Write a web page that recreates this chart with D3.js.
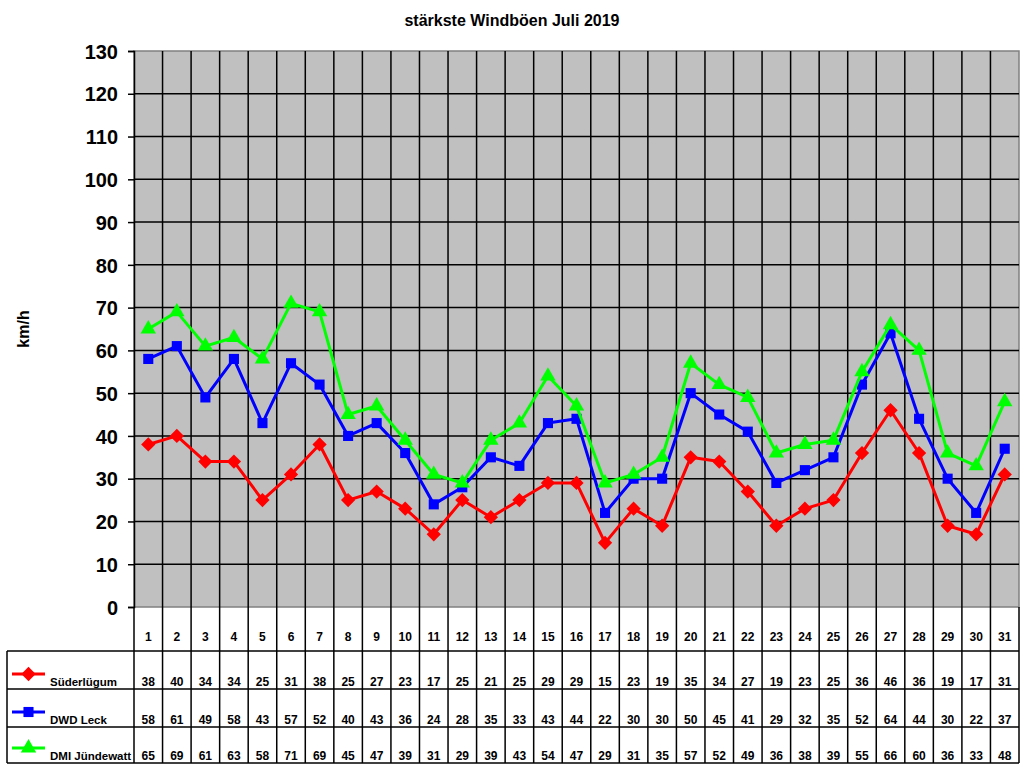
<!DOCTYPE html>
<html>
<head>
<meta charset="utf-8">
<script src="https://cdn.jsdelivr.net/npm/d3@7"></script>
<style>
  body { margin: 0; background: #fff; }
  svg { display: block; font-family: "Liberation Sans", Arial, sans-serif; }
</style>
</head>
<body>
<svg id="chart" width="1024" height="768"></svg>
<script>
// data
var days = d3.range(1, 32);
var suederluegum = [38,40,34,34,25,31,38,25,27,23,17,25,21,25,29,29,15,23,19,35,34,27,19,23,25,36,46,36,19,17,31];
var dwdLeck      = [58,61,49,58,43,57,52,40,43,36,24,28,35,33,43,44,22,30,30,50,45,41,29,32,35,52,64,44,30,22,37];
var dmiJuendewatt= [65,69,61,63,58,71,69,45,47,39,31,29,39,43,54,47,29,31,35,57,52,49,36,38,39,55,66,60,36,33,48];
var yTicks = d3.range(0, 131, 10);

var series = [
    {name: "Süderlügum",     values: suederluegum,  color: "#ff0000", symbol: d3.symbolDiamond2, size: 130},
    {name: "DWD Leck",       values: dwdLeck,       color: "#0000ff", symbol: d3.symbolSquare2,  size: 130},
    {name: "DMI Jündewatt",  values: dmiJuendewatt, color: "#00ff00", symbol: d3.symbolTriangle2, size: 170}
];

var svg = d3.select("#chart");

var plotLeft = 134, plotRight = 1019, plotTop = 51, plotBottom = 607;

var x = d3.scaleBand().domain(days).range([plotLeft, plotRight]);
var y = d3.scaleLinear().domain([0, 130]).range([plotBottom, plotTop]);

// title
svg.append("text")
    .attr("x", 512).attr("y", 26)
    .attr("text-anchor", "middle")
    .style("font-size", "16px").style("font-weight", "bold")
    .text("stärkste Windböen Juli 2019");

// plot background
svg.append("rect")
    .attr("x", plotLeft).attr("y", plotTop)
    .attr("width", plotRight - plotLeft).attr("height", plotBottom - plotTop)
    .attr("fill", "#c0c0c0")
    .attr("stroke", "#808080").attr("stroke-width", 1.5);

// horizontal grid
svg.append("g").selectAll("line")
    .data(yTicks.filter(d => d > 0 && d < 130))
    .enter().append("line")
    .attr("x1", plotLeft).attr("x2", plotRight)
    .attr("y1", d => y(d)).attr("y2", d => y(d))
    .attr("stroke", "#000").attr("stroke-width", 1.5);

// vertical grid (extends through the table)
var tableBottom = 763;
svg.append("g").selectAll("line")
    .data(days.slice(1))
    .enter().append("line")
    .attr("x1", d => x(d)).attr("x2", d => x(d))
    .attr("y1", plotTop).attr("y2", tableBottom)
    .attr("stroke", "#000").attr("stroke-width", 1.5);

// y axis
var yAxis = d3.axisLeft(y).tickValues(yTicks).tickSize(6).tickPadding(10);
var ga = svg.append("g").attr("transform", "translate(" + plotLeft + ",0)").call(yAxis);
ga.select(".domain").attr("stroke", "#000").attr("stroke-width", 1.5);
ga.selectAll(".tick line").attr("stroke", "#000").attr("stroke-width", 1.5);
ga.selectAll(".tick text")
    .style("font-size", "20px").style("font-weight", "bold")
    .style("font-family", "'Liberation Sans', Arial, sans-serif")
    .attr("fill", "#000").attr("dy", "0.36em");

svg.append("text")
    .attr("transform", "translate(29,329) rotate(-90)")
    .attr("text-anchor", "middle")
    .style("font-size", "16px").style("font-weight", "bold")
    .text("km/h");

// lines and markers
var line = d3.line()
    .x((d, i) => x(days[i]) + x.bandwidth() / 2)
    .y(d => y(d));

series.forEach(function(s) {
    svg.append("path")
        .attr("d", line(s.values))
        .attr("fill", "none")
        .attr("stroke", s.color)
        .attr("stroke-width", 3)
        .attr("stroke-linejoin", "round");
    svg.append("g").selectAll("path")
        .data(s.values)
        .enter().append("path")
        .attr("transform", (d, i) => "translate(" + (x(days[i]) + x.bandwidth() / 2) + "," + y(d) + ")")
        .attr("d", d3.symbol().type(s.symbol).size(s.size))
        .attr("fill", s.color);
});

// data table
var rowEdges = [651, 689, 727, 763];
var tg = svg.append("g");

tg.selectAll("line.row")
    .data(rowEdges)
    .enter().append("line")
    .attr("x1", 7).attr("x2", plotRight)
    .attr("y1", d => d).attr("y2", d => d)
    .attr("stroke", "#000").attr("stroke-width", 1.5);

tg.append("line")
    .attr("x1", 7).attr("x2", 7).attr("y1", rowEdges[0]).attr("y2", tableBottom)
    .attr("stroke", "#000").attr("stroke-width", 1.5);
tg.append("line")
    .attr("x1", plotLeft).attr("x2", plotLeft).attr("y1", plotBottom).attr("y2", tableBottom)
    .attr("stroke", "#000").attr("stroke-width", 1.5);
tg.append("line")
    .attr("x1", plotRight).attr("x2", plotRight).attr("y1", plotBottom).attr("y2", tableBottom)
    .attr("stroke", "#000").attr("stroke-width", 1.5);

// day numbers
tg.selectAll("text.day")
    .data(days)
    .enter().append("text")
    .attr("x", d => x(d) + x.bandwidth() / 2)
    .attr("y", 641)
    .attr("text-anchor", "middle")
    .style("font-size", "12px").style("font-weight", "bold")
    .text(d => d);

series.forEach(function(s, r) {
    var base = rowEdges[r + 1] - 3;
    var ly = rowEdges[r + 1] - 15;
    tg.append("line")
        .attr("x1", 12).attr("x2", 45)
        .attr("y1", ly).attr("y2", ly)
        .attr("stroke", s.color).attr("stroke-width", 3);
    tg.append("path")
        .attr("transform", "translate(28.5," + ly + ")")
        .attr("d", d3.symbol().type(s.symbol).size(s.size))
        .attr("fill", s.color);
    tg.append("text")
        .attr("x", 50).attr("y", base)
        .style("font-size", "11.5px").style("font-weight", "bold")
        .text(s.name);
    tg.selectAll("text.v" + r)
        .data(s.values)
        .enter().append("text")
        .attr("x", (d, i) => x(days[i]) + x.bandwidth() / 2)
        .attr("y", base)
        .attr("text-anchor", "middle")
        .style("font-size", "12px").style("font-weight", "bold")
        .text(d => d);
});
</script>
</body>
</html>
